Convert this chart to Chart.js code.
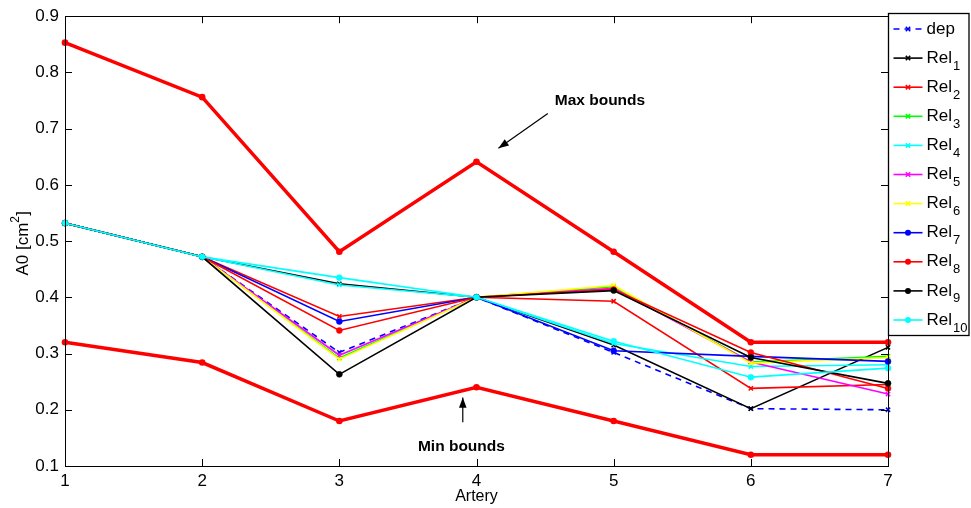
<!DOCTYPE html>
<html>
<head>
<meta charset="utf-8">
<title>A0 per artery</title>
<script src="https://cdn.jsdelivr.net/npm/chart.js@4.4.1/dist/chart.umd.min.js"></script>
<style>
  body { margin: 0; background: #fff; }
  #wrap { width: 971px; height: 508px; }
</style>
</head>
<body>
<div id="wrap"><canvas id="a0Chart" width="971" height="508"></canvas></div>
<script>
// values
const arteries = ["1", "2", "3", "4", "5", "6", "7"];
const yTicks = [0.1, 0.2, 0.3, 0.4, 0.5, 0.6, 0.7, 0.8, 0.9];

const dep   = [0.532, 0.472, 0.302, 0.400, 0.302, 0.202, 0.200];
const rel1  = [0.532, 0.472, 0.424, 0.400, 0.315, 0.202, 0.311];
const rel2  = [0.532, 0.472, 0.366, 0.400, 0.393, 0.238, 0.245];
const rel3  = [0.532, 0.472, 0.292, 0.400, 0.419, 0.285, 0.295];
const rel4  = [0.532, 0.472, 0.422, 0.400, 0.318, 0.277, 0.280];
const rel5  = [0.532, 0.472, 0.297, 0.400, 0.416, 0.285, 0.228];
const rel6  = [0.532, 0.472, 0.290, 0.400, 0.421, 0.283, 0.293];
const rel7  = [0.532, 0.472, 0.357, 0.400, 0.305, 0.295, 0.286];
const rel8  = [0.532, 0.472, 0.341, 0.400, 0.414, 0.302, 0.238];
const rel9  = [0.532, 0.472, 0.263, 0.400, 0.412, 0.293, 0.247];
const rel10 = [0.532, 0.472, 0.435, 0.400, 0.322, 0.258, 0.274];
const maxBounds = [0.853, 0.756, 0.481, 0.641, 0.481, 0.320, 0.320];
const minBounds = [0.320, 0.284, 0.180, 0.240, 0.180, 0.120, 0.120];

const relSeries = [rel1, rel2, rel3, rel4, rel5, rel6, rel7, rel8, rel9, rel10];
const relColors = ["#000000", "#ff0000", "#00ff00", "#00ffff", "#ff00ff",
                   "#ffff00", "#0000ff", "#ff0000", "#000000", "#00ffff"];

const FONT = "'Liberation Sans', Arial, Helvetica, sans-serif";

let datasets = [];
datasets.push({
  label: "dep", data: dep, borderColor: "#0000ff", backgroundColor: "#0000ff",
  borderWidth: 1.6, borderDash: [6, 5], pointStyle: "crossRot", pointRadius: 3,
  pointBorderWidth: 1.5, tension: 0, leg: { name: "dep", sub: "" }
});
relSeries.forEach((vals, i) => {
  const dot = i >= 6;
  datasets.push({
    label: "Rel" + (i + 1), data: vals, borderColor: relColors[i], backgroundColor: relColors[i],
    borderWidth: 1.6, pointStyle: dot ? "circle" : "crossRot", pointRadius: 3,
    pointBorderWidth: dot ? 0.5 : 1.5, tension: 0, leg: { name: "Rel", sub: String(i + 1) }
  });
});
datasets.push({
  label: "max", data: maxBounds, borderColor: "#ff0000", backgroundColor: "#ff0000",
  borderWidth: 3.5, pointRadius: 3.3, pointBorderWidth: 0, pointStyle: "circle", tension: 0
});
datasets.push({
  label: "min", data: minBounds, borderColor: "#ff0000", backgroundColor: "#ff0000",
  borderWidth: 3.5, pointRadius: 3.3, pointBorderWidth: 0, pointStyle: "circle", tension: 0
});
// later series sit on top, like the original plot
datasets.forEach((d, i) => { d.order = -i; });

const matlabFrame = {
  id: "matlabFrame",
  afterDraw(chart) {
    const ctx = chart.ctx;
    const a = chart.chartArea;
    const xs = chart.scales.x, ys = chart.scales.y;
    ctx.save();
    ctx.strokeStyle = "#000";
    ctx.lineWidth = 1;
    ctx.strokeRect(Math.round(a.left) + 0.5, Math.round(a.top) + 0.5,
                   Math.round(a.right - a.left), Math.round(a.bottom - a.top));
    // inward ticks
    ctx.beginPath();
    yTicks.forEach(v => {
      const y = Math.round(ys.getPixelForValue(v)) + 0.5;
      ctx.moveTo(a.left, y); ctx.lineTo(a.left + 7, y);
      ctx.moveTo(a.right, y); ctx.lineTo(a.right - 7, y);
    });
    arteries.forEach((_, i) => {
      const x = Math.round(xs.getPixelForValue(i)) + 0.5;
      ctx.moveTo(x, a.bottom); ctx.lineTo(x, a.bottom - 7);
      ctx.moveTo(x, a.top); ctx.lineTo(x, a.top + 7);
    });
    ctx.stroke();

    // axis titles
    ctx.fillStyle = "#000";
    ctx.font = "16px " + FONT;
    ctx.textAlign = "center";
    ctx.textBaseline = "middle";
    ctx.fillText("Artery", (a.left + a.right) / 2, 497);
    ctx.save();
    ctx.translate(23, (a.top + a.bottom) / 2);
    ctx.rotate(-Math.PI / 2);
    ctx.font = "17px " + FONT;
    ctx.fillText("A0 [cm", -8, 0);
    const w = ctx.measureText("A0 [cm").width;
    ctx.font = "12px " + FONT;
    ctx.textAlign = "left";
    ctx.fillText("2", -8 + w / 2, -7);
    ctx.font = "17px " + FONT;
    ctx.fillText("]", -8 + w / 2 + 7, 0);
    ctx.restore();

    // annotations with arrows (placed in data units)
    const px = (v) => xs.getPixelForValue(v - 1);
    const arrow = (x1, y1, x2, y2) => {
      const p1 = [px(x1), ys.getPixelForValue(y1)];
      const p2 = [px(x2), ys.getPixelForValue(y2)];
      const ang = Math.atan2(p2[1] - p1[1], p2[0] - p1[0]);
      ctx.beginPath();
      ctx.moveTo(p1[0], p1[1]); ctx.lineTo(p2[0], p2[1]);
      ctx.lineWidth = 1.2;
      ctx.stroke();
      ctx.beginPath();
      ctx.moveTo(p2[0], p2[1]);
      ctx.lineTo(p2[0] - 11 * Math.cos(ang - 0.35), p2[1] - 11 * Math.sin(ang - 0.35));
      ctx.lineTo(p2[0] - 11 * Math.cos(ang + 0.35), p2[1] - 11 * Math.sin(ang + 0.35));
      ctx.closePath();
      ctx.fill();
    };
    ctx.font = "bold 15.5px " + FONT;
    ctx.textAlign = "center";
    ctx.fillText("Max bounds", px(4.9), ys.getPixelForValue(0.749));
    arrow(4.52, 0.727, 4.16, 0.665);
    ctx.fillText("Min bounds", px(3.89), ys.getPixelForValue(0.135));
    arrow(3.9, 0.178, 3.9, 0.222);

    // legend box with subscripts
    const lx = Math.round(a.right) + 0.5, ly = 13.5;
    ctx.fillStyle = "#fff";
    ctx.fillRect(lx, ly, 969 - lx, 322);
    ctx.strokeStyle = "#000";
    ctx.lineWidth = 1.3;
    ctx.strokeRect(lx, ly, 969 - lx, 322);
    let row = 0;
    chart.data.datasets.forEach(d => {
      if (!d.leg) return;
      const y = 29 + row * 29.1;
      ctx.strokeStyle = d.borderColor;
      ctx.fillStyle = d.borderColor;
      ctx.lineWidth = 1.6;
      ctx.setLineDash(d.borderDash || []);
      ctx.beginPath();
      ctx.moveTo(lx + 5, y); ctx.lineTo(lx + 34, y);
      ctx.stroke();
      ctx.setLineDash([]);
      const mx = lx + 19.5;
      if (d.pointStyle === "circle") {
        ctx.beginPath(); ctx.arc(mx, y, 3, 0, Math.PI * 2); ctx.fill();
      } else {
        ctx.lineWidth = 1.5;
        ctx.beginPath();
        ctx.moveTo(mx - 2.2, y - 2.2); ctx.lineTo(mx + 2.2, y + 2.2);
        ctx.moveTo(mx - 2.2, y + 2.2); ctx.lineTo(mx + 2.2, y - 2.2);
        ctx.stroke();
      }
      ctx.fillStyle = "#000";
      ctx.textAlign = "left";
      ctx.textBaseline = "middle";
      ctx.font = "17px " + FONT;
      ctx.fillText(d.leg.name, lx + 38, y);
      if (d.leg.sub) {
        const nw = ctx.measureText(d.leg.name).width;
        ctx.font = "13px " + FONT;
        ctx.fillText(d.leg.sub, lx + 38 + nw + 1, y + 8);
      }
      row++;
    });
    ctx.restore();
  }
};

new Chart(document.getElementById("a0Chart"), {
  type: "line",
  data: { labels: arteries, datasets: datasets },
  plugins: [matlabFrame],
  options: {
    responsive: false,
    animation: false,
    layout: { padding: { top: 15, right: 83, left: 0, bottom: 0 } },
    plugins: { legend: { display: false }, tooltip: { enabled: false } },
    scales: {
      x: {
        type: "category",
        offset: false,
        grid: { display: false, drawTicks: false },
        border: { display: false },
        ticks: { color: "#000", font: { size: 17, family: FONT }, padding: 5, maxRotation: 0 },
        afterFit: (s) => { s.height = 42; }
      },
      y: {
        min: 0.1, max: 0.9,
        grid: { display: false, drawTicks: false },
        border: { display: false },
        ticks: {
          color: "#000", font: { size: 17, family: FONT }, padding: 6, stepSize: 0.1,
          callback: (v) => Number(v).toFixed(1)
        },
        afterFit: (s) => { s.width = 65; }
      }
    }
  }
});
</script>
</body>
</html>
